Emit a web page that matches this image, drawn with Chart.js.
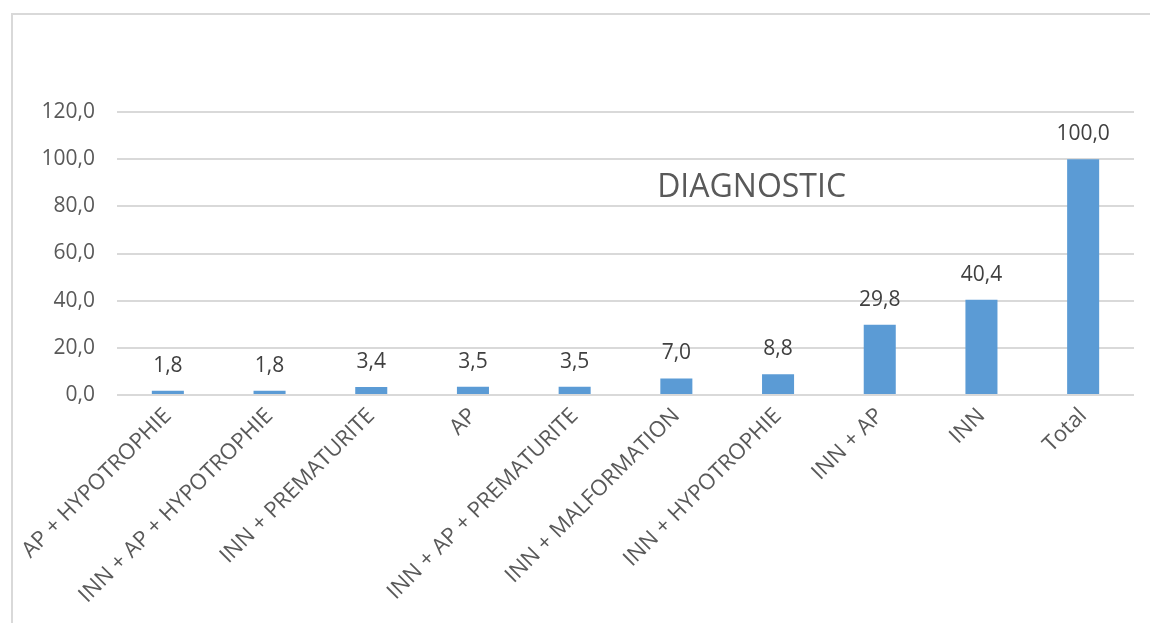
<!DOCTYPE html>
<html>
<head>
<meta charset="utf-8">
<script src="https://cdn.jsdelivr.net/npm/chart.js@4/dist/chart.umd.min.js"></script>
<style>
  html, body { margin: 0; padding: 0; background: #fff; }
  #wrap { position: relative; width: 1150px; height: 623px; overflow: hidden; }
  #frame { position: absolute; left: 11px; top: 13px; width: 1200px; height: 700px;
           border-left: 2px solid #d9d9d9; border-top: 2px solid #d9d9d9; }
  canvas { position: absolute; left: 0; top: 0; }
</style>
</head>
<body>
<div id="wrap">
  <div id="frame"></div>
  <canvas id="chart" width="1150" height="623"></canvas>
</div>
<script>
// categories + values
const categories = [
  "AP + HYPOTROPHIE",
  "INN + AP + HYPOTROPHIE",
  "INN + PREMATURITE",
  "AP",
  "INN + AP + PREMATURITE",
  "INN + MALFORMATION",
  "INN + HYPOTROPHIE",
  "INN + AP",
  "INN",
  "Total"
];
const diagValues = [1.8, 1.8, 3.4, 3.5, 3.5, 7.0, 8.8, 29.8, 40.4, 100.0];
const yTicks = [0, 20, 40, 60, 80, 100, 120];
const chartTitle = "DIAGNOSTIC";

const FONT = "'Open Sans', 'Noto Sans', sans-serif";

function fmt(v) {
  return v.toFixed(1).replace('.', ',');
}

// value labels above bars + title inside the plot
const labelPlugin = {
  id: 'labelPlugin',
  afterDatasetsDraw(chart) {
    const ctx = chart.ctx;
    const meta = chart.getDatasetMeta(0);
    ctx.save();
    ctx.font = "21px " + FONT;
    ctx.fillStyle = '#404040';
    ctx.textAlign = 'center';
    ctx.textBaseline = 'middle';
    meta.data.forEach(function (bar, i) {
      ctx.fillText(fmt(diagValues[i]), bar.x, bar.y - 25);
    });
    // title sits inside the plot area
    const area = chart.chartArea;
    ctx.font = "32px " + FONT;
    ctx.fillStyle = '#595959';
    ctx.fillText(chartTitle, area.left + (area.right - area.left) * 0.624, chart.scales.y.getPixelForValue(88));
    ctx.restore();
  }
};

new Chart(document.getElementById('chart'), {
  type: 'bar',
  data: {
    labels: categories,
    datasets: [{
      data: diagValues,
      backgroundColor: '#5b9bd5',
      categoryPercentage: 1,
      barPercentage: 0.315
    }]
  },
  options: {
    responsive: false,
    animation: false,
    layout: { padding: { top: 112, right: 16, left: 0, bottom: 0 } },
    plugins: {
      legend: { display: false },
      tooltip: { enabled: false }
    },
    scales: {
      x: {
        grid: { display: false, drawTicks: false },
        border: { display: false },
        ticks: {
          color: '#595959',
          font: { family: FONT, size: 22 },
          minRotation: 45,
          maxRotation: 45,
          padding: 8,
          autoSkip: false
        },
        afterFit(scale) { scale.height = 228; }
      },
      y: {
        min: 0,
        max: 120,
        afterBuildTicks(scale) { scale.ticks = yTicks.map(v => ({ value: v })); },
        grid: { color: '#d9d9d9', lineWidth: 2, drawTicks: false },
        border: { display: false },
        ticks: {
          color: '#595959',
          font: { family: FONT, size: 21 },
          padding: 22,
          callback: v => fmt(v)
        },
        afterFit(scale) { scale.width = 117; }
      }
    }
  },
  plugins: [labelPlugin]
});
</script>
</body>
</html>
